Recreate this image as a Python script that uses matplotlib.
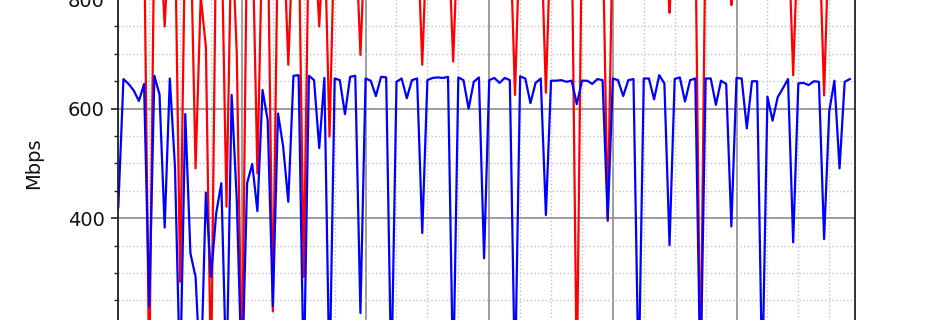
import matplotlib
matplotlib.use("Agg")
import matplotlib.pyplot as plt
from matplotlib.ticker import MultipleLocator

# hourly samples (hour index from start)
hours = list(range(143))

# values; 940 ~ out of view above, 100 ~ out of view below
blue = [420, 654, 645, 633, 614, 645, 239, 660, 626, 383,
        655, 494, 100, 590, 336, 293, 100, 447, 293, 409,
        464, 100, 625, 433, 100, 464, 499, 413, 634, 579,
        240, 591, 531, 430, 660, 661, 100, 660, 652, 528,
        656, 100, 655, 652, 590, 658, 660, 227, 655, 651,
        623, 658, 657, 100, 649, 655, 619, 652, 655, 373,
        652, 656, 657, 656, 658, 100, 657, 652, 600, 649,
        657, 327, 652, 656, 647, 656, 652, 100, 659, 655,
        610, 647, 655, 406, 651, 651, 652, 649, 651, 608,
        651, 651, 645, 654, 652, 398, 655, 652, 623, 652,
        654, 100, 655, 655, 617, 661, 646, 351, 654, 657,
        613, 652, 655, 100, 655, 655, 607, 651, 645, 385,
        656, 655, 564, 650, 650, 100, 622, 578, 621, 637,
        654, 356, 646, 647, 643, 650, 649, 362, 595, 651,
        491, 649, 654]

red = [940, 940, 940, 940, 940, 940, 100, 940, 940, 750,
       940, 940, 284, 940, 940, 491, 805, 713, 100, 940,
       940, 421, 940, 700, 100, 940, 940, 482, 940, 940,
       230, 940, 940, 680, 940, 940, 293, 940, 940, 750,
       940, 549, 940, 940, 940, 940, 940, 698, 940, 940,
       940, 940, 940, 940, 940, 940, 940, 940, 940, 680,
       940, 940, 940, 940, 940, 686, 940, 940, 940, 940,
       940, 940, 940, 940, 940, 940, 940, 625, 940, 940,
       940, 940, 940, 629, 940, 940, 940, 940, 940, 100,
       940, 940, 940, 940, 940, 395, 940, 940, 940, 940,
       940, 940, 940, 940, 940, 940, 940, 775, 940, 940,
       940, 940, 940, 100, 940, 940, 940, 940, 940, 789,
       940, 940, 940, 940, 940, 940, 940, 940, 940, 940,
       940, 661, 940, 940, 940, 940, 940, 624, 940, 940,
       940, 940, 940]

yticks = [400, 600, 800]
ylabel = "Mbps"

fig = plt.figure(figsize=(9.5, 3.2), dpi=100)
ax = fig.add_axes([118.3 / 950, -0.367, 736.7 / 950, 1.7125])

ax.plot(hours, red, color="red", lw=1.6)
ax.plot(hours, blue, color="blue", lw=1.6)

ax.set_xlim(0, 143)
ax.set_ylim(0, 1000)
ax.xaxis.set_major_locator(MultipleLocator(24))
ax.xaxis.set_minor_locator(MultipleLocator(6))
ax.set_yticks(yticks)
ax.yaxis.set_minor_locator(MultipleLocator(50))

ax.grid(which="major", color="#8c8c8c", lw=1.2, ls="-")
ax.grid(which="minor", color="#c4c4c4", lw=1.0, ls=":")

for s in ax.spines.values():
    s.set_color("#222222")
    s.set_linewidth(1.3)

ax.tick_params(axis="y", which="major", labelsize=14, length=5, width=1.2,
               pad=4.8, colors="#222222", labelcolor="#111111")
ax.tick_params(axis="y", which="minor", length=3, width=1.0, colors="#222222")
ax.tick_params(axis="x", labelbottom=False)

ax.set_ylabel(ylabel, fontsize=14, labelpad=17.5, color="#111111")

fig.savefig("out.png", dpi=100)
